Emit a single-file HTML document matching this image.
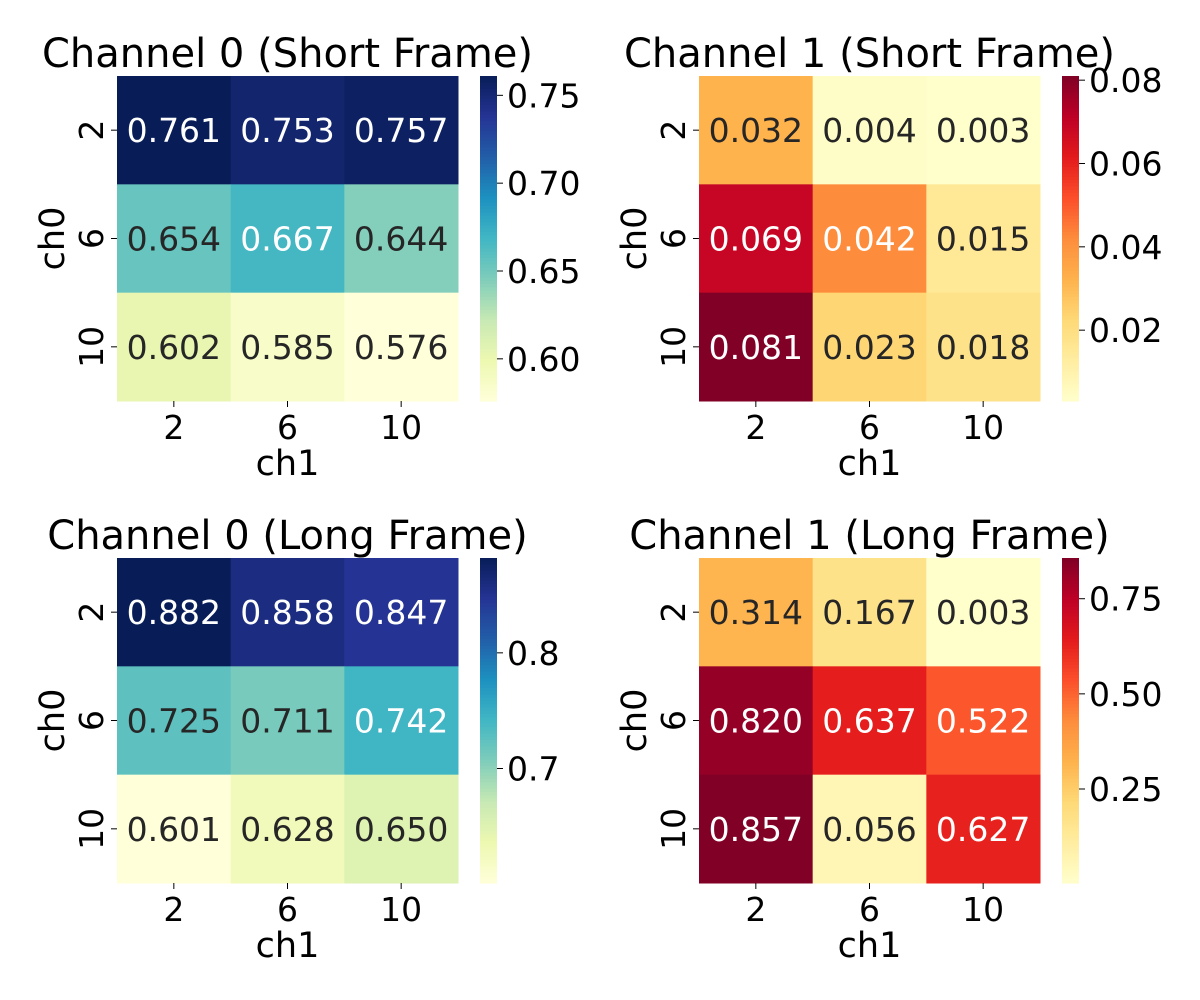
<!DOCTYPE html>
<html><head><meta charset="utf-8"><style>html,body{margin:0;padding:0;background:#fff}svg{display:block}text{font-family:"DejaVu Sans","Liberation Sans",sans-serif}</style></head>
<body>
<svg id="chart" width="1200" height="1000" viewBox="0 0 1200 1000" xmlns="http://www.w3.org/2000/svg"></svg>
<script>
const rowLabels = ["2","6","10"];
const colLabels = ["2","6","10"];
const titles = ["Channel 0 (Short Frame)","Channel 1 (Short Frame)","Channel 0 (Long Frame)","Channel 1 (Long Frame)"];
const ch0Short = [[0.761,0.753,0.757],[0.654,0.667,0.644],[0.602,0.585,0.576]];
const ch1Short = [[0.032,0.004,0.003],[0.069,0.042,0.015],[0.081,0.023,0.018]];
const ch0Long = [[0.882,0.858,0.847],[0.725,0.711,0.742],[0.601,0.628,0.650]];
const ch1Long = [[0.314,0.167,0.003],[0.820,0.637,0.522],[0.857,0.056,0.627]];
const ticks0Short = [0.60,0.65,0.70,0.75];
const tickLabels0Short = ["0.60","0.65","0.70","0.75"];
const ticks1Short = [0.02,0.04,0.06,0.08];
const tickLabels1Short = ["0.02","0.04","0.06","0.08"];
const ticks0Long = [0.7,0.8];
const tickLabels0Long = ["0.7","0.8"];
const ticks1Long = [0.25,0.50,0.75];
const tickLabels1Long = ["0.25","0.50","0.75"];

const YlGnBu = ["#ffffd9","#edf8b1","#c7e9b4","#7fcdbb","#41b6c4","#1d91c0","#225ea8","#253494","#081d58"];
const YlOrRd = ["#ffffcc","#ffeda0","#fed976","#feb24c","#fd8d3c","#fc4e2a","#e31a1c","#bd0026","#800026"];
function hex(h){return [1,3,5].map(i=>parseInt(h.substr(i,2),16));}
function cmap(stops,t){
  t=Math.max(0,Math.min(1,t));const p=t*(stops.length-1);const i=Math.min(stops.length-2,Math.floor(p));const f=p-i;
  const a=hex(stops[i]),b=hex(stops[i+1]);return a.map((v,k)=>Math.round(v+(b[k]-v)*f));
}
function lum(c){const l=c.map(v=>{v/=255;return v<=0.03928?v/12.92:Math.pow((v+0.055)/1.055,2.4)});return 0.2126*l[0]+0.7152*l[1]+0.0722*l[2];}
const NS="http://www.w3.org/2000/svg";
const svg=document.getElementById('chart');
function el(tag,attrs,parent,txt){const e=document.createElementNS(NS,tag);for(const k in attrs)e.setAttribute(k,attrs[k]);if(txt!==undefined)e.textContent=txt;(parent||svg).appendChild(e);return e;}

const panels=[
 {data:ch0Short,cm:YlGnBu,ticks:ticks0Short,tl:tickLabels0Short,x:117,y:76,cbx:480,name:"ch0-short"},
 {data:ch1Short,cm:YlOrRd,ticks:ticks1Short,tl:tickLabels1Short,x:699,y:76,cbx:1062,name:"ch1-short"},
 {data:ch0Long,cm:YlGnBu,ticks:ticks0Long,tl:tickLabels0Long,x:117,y:558,cbx:480,name:"ch0-long"},
 {data:ch1Long,cm:YlOrRd,ticks:ticks1Long,tl:tickLabels1Long,x:699,y:558,cbx:1062,name:"ch1-long"}
];
const W=341,H=325,cw=W/3,chh=H/3;
panels.forEach((p,pi)=>{
  const g=el('g',{});
  
  
  const flat=p.data.flat();const vmin=Math.min(...flat),vmax=Math.max(...flat);
  const norm=v=>(v-vmin)/(vmax-vmin);
  const t=el('text',{x:p.x+W/2,y:p.y-9,'text-anchor':'middle','font-size':40,fill:'#000'},g,titles[pi]);
  
  
  p.data.forEach((row,r)=>row.forEach((v,c)=>{
    const col=cmap(p.cm,norm(v));
    const rc=el('rect',{x:p.x+c*cw,y:p.y+r*chh,width:cw+0.5,height:chh+0.5,fill:`rgb(${col})`},g);
    
    
    const tx=el('text',{x:p.x+(c+0.5)*cw,y:p.y+(r+0.5)*chh+12,'text-anchor':'middle','font-size':33,fill:lum(col)<0.408?'#ffffff':'#262626'},g,v.toFixed(3));
    
    
  }));
  colLabels.forEach((l,i)=>{
    const cx=p.x+(i+0.5)*cw;
    el('line',{x1:cx,x2:cx,y1:p.y+H,y2:p.y+H+6,stroke:'#000','stroke-width':1},g);
    const tl=el('text',{x:cx,y:p.y+H+38,'text-anchor':'middle','font-size':33,fill:'#000'},g,l);
    
    
  });
  rowLabels.forEach((l,i)=>{
    const cy=p.y+(i+0.5)*chh;
    el('line',{x1:p.x-6,x2:p.x,y1:cy,y2:cy,stroke:'#000','stroke-width':1},g);
    const tl=el('text',{x:0,y:0,transform:`translate(${p.x-14},${cy}) rotate(-90)`,'text-anchor':'middle','font-size':33,fill:'#000'},g,l);
    
    
  });
  const xl=el('text',{x:p.x+W/2,y:p.y+H+74,'text-anchor':'middle','font-size':35,fill:'#000'},g,'ch1');
  
  
  const yl=el('text',{x:0,y:0,transform:`translate(${p.x-53},${p.y+H/2}) rotate(-90)`,'text-anchor':'middle','font-size':35,fill:'#000'},g,'ch0');
  
  
  const cb=el('g',{},g);
  
  
  const N=100;
  for(let k=0;k<N;k++){
    const col=cmap(p.cm,1-(k+0.5)/N);
    el('rect',{x:p.cbx,y:p.y+k*H/N,width:17,height:H/N+0.6,fill:`rgb(${col})`},cb);
  }
  p.ticks.forEach((tv,i)=>{
    const ty=p.y+H*(1-norm(tv));
    el('line',{x1:p.cbx+17,x2:p.cbx+23,y1:ty,y2:ty,stroke:'#000','stroke-width':1},cb);
    const tl=el('text',{x:p.cbx+27,y:ty+12,'font-size':33,fill:'#000'},cb,p.tl[i]);
    
    
  });
});
</script>
</body></html>
